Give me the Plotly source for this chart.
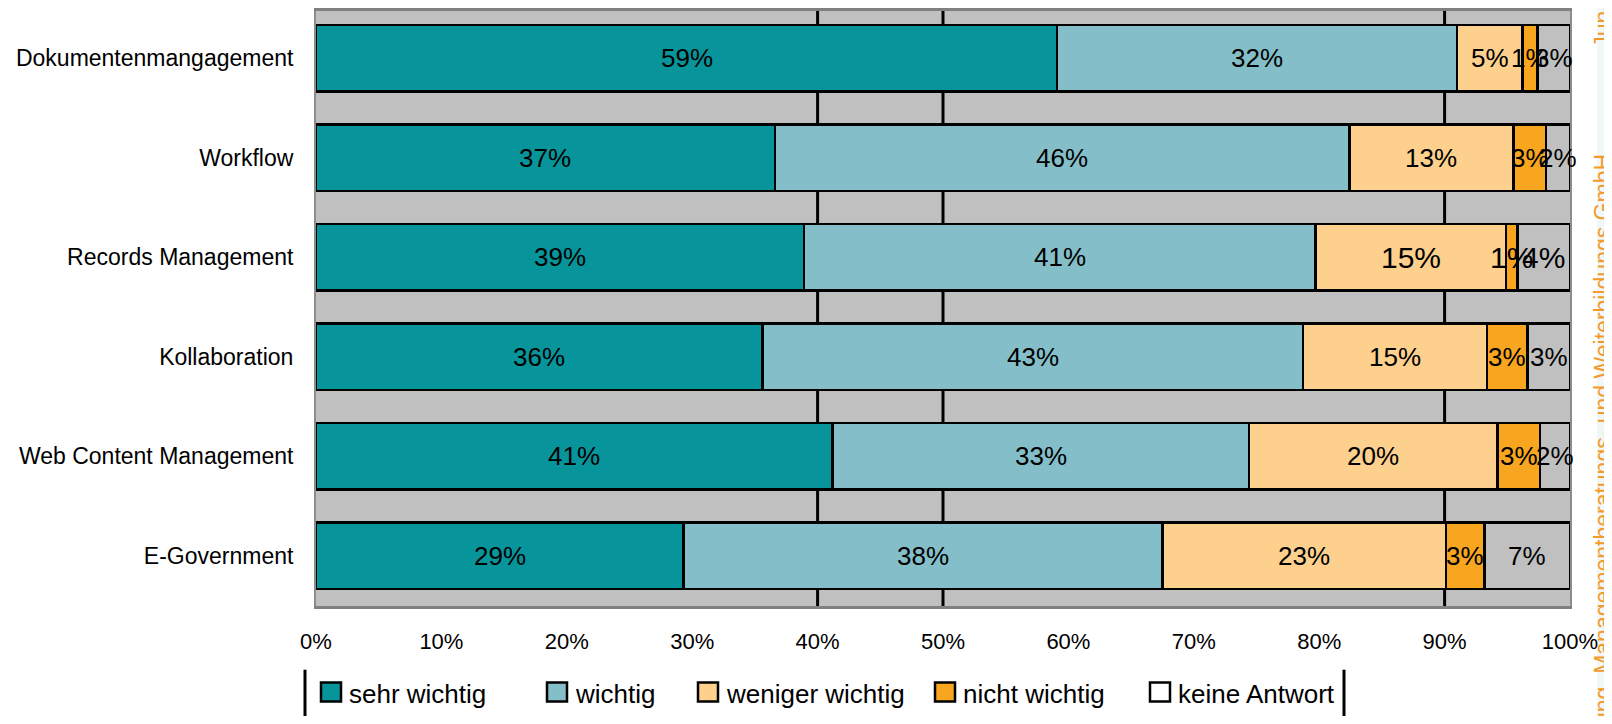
import plotly.graph_objects as go

# ---------------- data ----------------
categories = ["Dokumentenmangagement", "Workflow", "Records Management",
              "Kollaboration", "Web Content Management", "E-Government"]
series_names = ["sehr wichtig", "wichtig", "weniger wichtig", "nicht wichtig", "keine Antwort"]
sehr_wichtig = [59.1, 36.6, 38.9, 35.6, 41.2, 29.3]
wichtig = [31.9, 45.8, 40.8, 43.1, 33.2, 38.2]
weniger_wichtig = [5.2, 13.1, 15.2, 14.7, 19.8, 22.6]
nicht_wichtig = [1.2, 2.6, 0.9, 3.2, 3.4, 3.1]
keine_antwort = [2.6, 1.9, 4.2, 3.4, 2.4, 6.8]
x_ticks = [0, 10, 20, 30, 40, 50, 60, 70, 80, 90, 100]
x_tick_labels = ["0%", "10%", "20%", "30%", "40%", "50%", "60%", "70%", "80%", "90%", "100%"]
footer_text = "Unternehmensberatung, Managementberatungs- und Weiterbildungs GmbH"
footer_date = "Jun-07"

# ---------------- style ----------------
FONT = "Liberation Sans, Arial, sans-serif"
bar_fill = ["#07959B", "#84BFC9", "#FDD08E", "#F8A51F", "#C0C0C0"]
legend_fill = ["#07959B", "#84BFC9", "#FDD08E", "#F8A51F", "#FFFFFF"]
label_size = 26
big_label_size = 30
big_label_rows = {"weniger wichtig": [2], "nicht wichtig": [2], "keine Antwort": [2]}
ORANGE = "#F39A2B"

# The page body has an 8 px margin: figure is 1604x708 and all
# screen-pixel positions below are converted to paper coordinates.
PLOT_L, PLOT_R, PLOT_B, PLOT_T = 316, 1570, 606, 8
px2x = lambda sx: (sx - PLOT_L) / (PLOT_R - PLOT_L)
py2y = lambda sy: (PLOT_B - sy) / (PLOT_B - PLOT_T)

values = [sehr_wichtig, wichtig, weniger_wichtig, nicht_wichtig, keine_antwort]

fig = go.Figure()
annotations = []
cum = [0.0] * len(categories)
for name, vals, col in zip(series_names, values, bar_fill):
    fig.add_trace(go.Bar(
        name=name, y=categories, x=vals, orientation="h",
        marker=dict(color=col, line=dict(color="black", width=2.5)),
        showlegend=False,
    ))
    for i, (cat, v) in enumerate(zip(categories, vals)):
        size = big_label_size if i in big_label_rows.get(name, []) else label_size
        annotations.append(dict(text=f"{v:.0f}%", x=cum[i] + v / 2, y=cat, xref="x", yref="y",
                                showarrow=False, xanchor="center", yanchor="middle",
                                font=dict(family=FONT, size=size, color="black")))
        cum[i] += v

shapes = []
# black vertical gridlines at 40/50/90 %
for gx in [40, 50, 90]:
    shapes.append(dict(type="line", xref="x", yref="paper", x0=gx, x1=gx, y0=0, y1=1,
                       line=dict(color="black", width=3), layer="below"))
# right-edge light strip
shapes.append(dict(type="rect", xref="paper", yref="paper",
                   x0=px2x(1597), x1=px2x(1625), y0=-1, y1=2,
                   fillcolor="#F1F7F8", line=dict(width=0), layer="below"))

# manual legend (box edges, swatches, texts)
for xp in [305, 1344]:
    shapes.append(dict(type="line", xref="paper", yref="paper",
                       x0=px2x(xp), x1=px2x(xp), y0=py2y(670), y1=py2y(735),
                       line=dict(color="black", width=3)))
legend_x = [321, 547, 698, 935, 1150]
for name, col, lx in zip(series_names, legend_fill, legend_x):
    shapes.append(dict(type="rect", xref="paper", yref="paper",
                       x0=px2x(lx), x1=px2x(lx + 20), y0=py2y(702), y1=py2y(683),
                       fillcolor=col, line=dict(color="black", width=2.5)))
    annotations.append(dict(text=name, xref="paper", yref="paper",
                            x=px2x(lx + 26), y=py2y(694), xanchor="left", yanchor="middle",
                            showarrow=False, font=dict(family=FONT, size=26, color="black")))

# vertical orange footer text (partially cut by right edge)
annotations.append(dict(text=footer_text, xref="paper", yref="paper",
                        x=px2x(1603), y=py2y(150), xanchor="center", yanchor="top",
                        textangle=-90, showarrow=False,
                        font=dict(family=FONT, size=23, color=ORANGE)))
annotations.append(dict(text=footer_date, xref="paper", yref="paper",
                        x=px2x(1603), y=py2y(47), xanchor="center", yanchor="bottom",
                        textangle=-90, showarrow=False,
                        font=dict(family=FONT, size=23, color=ORANGE)))

fig.update_layout(
    width=1604, height=708,
    margin=dict(l=308, r=42, t=0, b=110),
    barmode="stack", bargap=0.33,
    plot_bgcolor="#C0C0C0", paper_bgcolor="white",
    font=dict(family=FONT, color="black"),
    shapes=shapes, annotations=annotations,
    xaxis=dict(range=[0, 100], tickvals=x_ticks, ticktext=x_tick_labels,
               showgrid=False, zeroline=False,
               showline=True, linecolor="#808080", linewidth=3, mirror=True,
               ticks="", ticklabelstandoff=14, tickfont=dict(family=FONT, size=22)),
    yaxis=dict(categoryorder="array", categoryarray=categories, range=[5.505, -0.475],
               showgrid=False, zeroline=False, showline=True, linecolor="#8C8C8C",
               linewidth=2, mirror=True, ticks="", ticklabelstandoff=16,
               tickfont=dict(family=FONT, size=23)),
)

fig.write_html("out.html")
